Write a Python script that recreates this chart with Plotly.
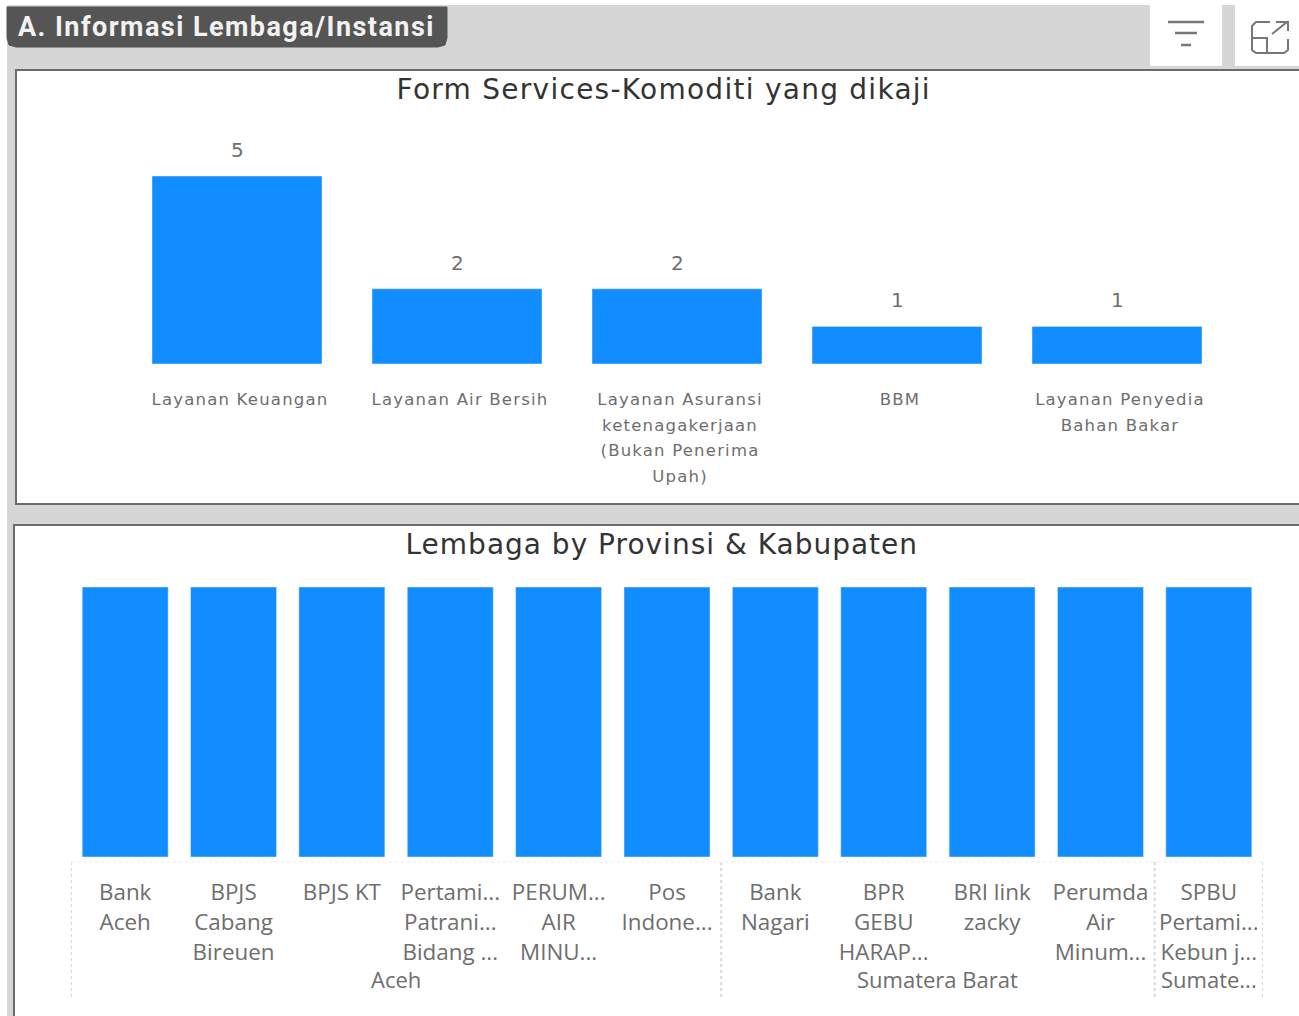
import plotly.graph_objects as go

W, H = 1299, 1016

# ---- data ----
services = ["Layanan Keuangan", "Layanan Air Bersih",
            "Layanan Asuransi<br>ketenagakerjaan<br>(Bukan Penerima<br>Upah)",
            "BBM", "Layanan Penyedia<br>Bahan Bakar"]
service_counts = [5, 2, 2, 1, 1]

institutions = ["Bank<br>Aceh", "BPJS<br>Cabang<br>Bireuen", "BPJS KT",
                "Pertami...<br>Patrani...<br>Bidang ...", "PERUM...<br>AIR<br>MINU...",
                "Pos<br>Indone...", "Bank<br>Nagari", "BPR<br>GEBU<br>HARAP...",
                "BRI link<br>zacky", "Perumda<br>Air<br>Minum...",
                "SPBU<br>Pertami...<br>Kebun j..."]
institution_counts = [1] * 11
provinces = ["Aceh", "Sumatera Barat", "Sumate..."]
province_sizes = [6, 4, 1]

BLUE = "#118DFF"
GREY = "#6e6e6e"
ICON = "#777777"
BG = "#d6d6d6"
FONT_TOP = "DejaVu Sans"
FONT_BOT = "Open Sans"


def px(x):
    return x / W


def py(y):
    return 1 - y / H


def pshape(path_pts, **kw):
    d = "M " + " L ".join(f"{px(x):.5f},{py(y):.5f}" for x, y in path_pts)
    return dict(type="path", xref="paper", yref="paper", path=d, **kw)


def rect(x0, y0, x1, y1, fill, line=None, width=0):
    return dict(type="rect", xref="paper", yref="paper", layer="below",
                x0=px(x0), x1=px(x1), y0=py(y0), y1=py(y1), fillcolor=fill,
                line=dict(color=line or fill, width=width))


def sized(text, size):
    return "<br>".join(f'<span style="font-size:{size}px">{ln}</span>' for ln in text.split("<br>"))


top_idx = list(range(len(services)))
bot_idx = list(range(len(institutions)))

fig = go.Figure()
fig.add_bar(x=top_idx, y=service_counts, marker_color=BLUE, xaxis="x", yaxis="y",
            hoverinfo="skip", width=170 / 220)
fig.add_bar(x=bot_idx, y=institution_counts, marker_color=BLUE, xaxis="x2", yaxis="y2",
            hoverinfo="skip", width=86 / 108.4)

shapes = [
    rect(7, 5, W, 525, BG),
    rect(7, 500, W, H, BG),
    rect(16, 70, W + 5, 504, "white", "#6b6b6b", 2),
    rect(14, 525, W + 5, H + 5, "white", "#6b6b6b", 2),
    rect(1150, 5, 1222, 66, "white"),
    rect(1235, 5, W, 66, "white"),
]

# header tab with rounded lower corners
r = 9
tab = [(7, 7), (447, 7), (447, 47 - r), (445, 45), (447 - r, 47), (7 + r, 47), (9, 45), (7, 47 - r), (7, 7)]
shapes.append(pshape(tab, fillcolor="#555555", line=dict(color="#555555", width=1), layer="below"))

# filter icon
for x0, x1, y in [(1168, 1204, 22), (1175, 1197, 33), (1181, 1191, 45)]:
    shapes.append(pshape([(x0, y), (x1, y)], line=dict(color=ICON, width=2.5)))
# expand icon
shapes.append(pshape([(1270, 22), (1256, 22), (1252, 26), (1252, 50), (1256, 53), (1284, 53),
                      (1288, 50), (1288, 39)], line=dict(color=ICON, width=2)))
shapes.append(pshape([(1252, 38), (1267, 38), (1267, 53)], line=dict(color=ICON, width=2)))
shapes.append(pshape([(1272, 34), (1287, 22)], line=dict(color=ICON, width=2)))
shapes.append(pshape([(1276, 22), (1288, 22), (1288, 31)], line=dict(color=ICON, width=2)))

# dotted province dividers, placed on the category axis
edges = [-0.5]
for n in province_sizes:
    edges.append(edges[-1] + n)
for e in edges:
    shapes.append(dict(type="line", xref="x2", yref="paper", x0=e, x1=e, y0=py(862), y1=py(998),
                       line=dict(color="#d8d8d8", width=2, dash="dot")))
shapes.append(dict(type="line", xref="x2", yref="paper", x0=-0.5, x1=10.5, y0=py(862), y1=py(862),
                   line=dict(color="#f2f2f2", width=1.5, dash="dot")))

annotations = [
    dict(text="<b>A. Informasi Lembaga/Instansi</b>", xref="paper", yref="paper", x=px(226.5), y=py(27),
         xanchor="center", yanchor="middle", showarrow=False,
         font=dict(family="Roboto", size=27, color="#f2f2f2")),
    dict(text="Form Services-Komoditi yang dikaji", xref="paper", yref="paper", x=px(663), y=py(90),
         xanchor="center", yanchor="middle", showarrow=False,
         font=dict(family=FONT_TOP, size=28, color="#333333")),
    dict(text="Lembaga by Provinsi &amp; Kabupaten", xref="paper", yref="paper", x=px(662), y=py(544),
         xanchor="center", yanchor="middle", showarrow=False,
         font=dict(family=FONT_TOP, size=28, color="#333333")),
]
for i, v in zip(top_idx, service_counts):
    annotations.append(dict(text=str(v), x=i, y=v, xref="x", yref="y", yanchor="bottom", yshift=12,
                            showarrow=False, font=dict(family=FONT_TOP, size=20, color=GREY)))
for (name, a, b) in zip(provinces, edges[:-1], edges[1:]):
    annotations.append(dict(text=name, x=(a + b) / 2, y=py(979), xref="x2", yref="paper",
                            yanchor="middle", showarrow=False,
                            font=dict(family=FONT_BOT, size=22, color=GREY)))

fig.update_layout(
    width=W, height=H, autosize=False, margin=dict(l=0, r=0, t=0, b=0),
    paper_bgcolor="white", plot_bgcolor="rgba(0,0,0,0)", showlegend=False,
    shapes=shapes, annotations=annotations,
    xaxis=dict(domain=[px(127), px(1227)], range=[-0.5, 4.5], tickmode="array", tickvals=top_idx,
               ticktext=[sized(s, 16.5) for s in services], tickangle=0, showgrid=False,
               zeroline=False, showline=False, ticks="", ticklabelstandoff=20, ticklabelshift=3,
               tickfont=dict(family=FONT_TOP, size=19.8, color=GREY)),
    yaxis=dict(domain=[py(364), py(176)], range=[0, 5], visible=False),
    xaxis2=dict(domain=[px(71), px(1263)], range=[-0.5, 10.5], anchor="y2", tickmode="array",
                tickvals=bot_idx, ticktext=[sized(s, 22.4) for s in institutions], tickangle=0,
                showgrid=False, zeroline=False, showline=False, ticks="", ticklabelstandoff=19,
                tickfont=dict(family=FONT_BOT, size=23, color=GREY)),
    yaxis2=dict(domain=[py(857), py(587)], range=[0, 1], visible=False),
)

# the reference's fonts are letter-spaced; plotly has no font option for this, so apply it on the page
post = """
document.body.style.margin='0';document.body.style.overflow='hidden';
document.querySelectorAll('.annotation-text').forEach(function(t){
  var s=t.textContent;
  if(s.indexOf('Informasi')>=0){t.style.letterSpacing='1.45px';}
  if(s.indexOf('Form Services')>=0){t.style.letterSpacing='1.26px';}
  if(s.indexOf('Lembaga by')>=0){t.style.letterSpacing='1px';}
});
document.querySelectorAll('.xtick text').forEach(function(t){
  if(t.getAttribute('data-unformatted') && t.getAttribute('data-unformatted').indexOf('16.5px')>=0){t.style.letterSpacing='1.2px';}
});
"""
fig.write_html("out.html", config={"displayModeBar": False}, post_script=post)
